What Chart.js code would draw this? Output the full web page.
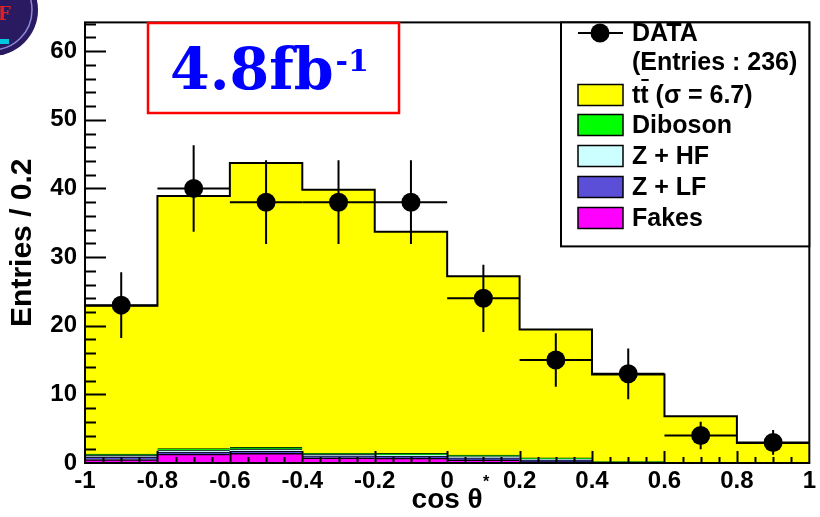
<!DOCTYPE html>
<html>
<head>
<meta charset="utf-8">
<script src="https://cdn.jsdelivr.net/npm/chart.js@4.4.1/dist/chart.umd.min.js"></script>
<style>
  html, body { margin: 0; padding: 0; background: #fff; }
</style>
</head>
<body>
<canvas id="myChart" width="820" height="517"></canvas>
<script>
// bins of cos theta
const binLabels = ['-1..-0.8', '-0.8..-0.6', '-0.6..-0.4', '-0.4..-0.2', '-0.2..0', '0..0.2', '0.2..0.4', '0.4..0.6', '0.6..0.8', '0.8..1'];
const binEdges = [-1, -0.8, -0.6, -0.4, -0.2, 0, 0.2, 0.4, 0.6, 0.8, 1];
const binCenters = [-0.9, -0.7, -0.5, -0.3, -0.1, 0.1, 0.3, 0.5, 0.7, 0.9];

// stacked expectation, bottom to top
const fakes   = [0.5, 1.3, 1.4, 0.75, 0.7, 0.45, 0.2, 0.05, 0.02, 0.01];
const zlf     = [0.4, 0.3, 0.3, 0.3, 0.3, 0.3, 0.25, 0.05, 0.03, 0.02];
const zhf     = [0.2, 0.3, 0.35, 0.2, 0.2, 0.2, 0.15, 0.05, 0.02, 0.01];
const diboson = [0.2, 0.2, 0.25, 0.15, 0.2, 0.2, 0.15, 0.05, 0.03, 0.01];
const ttbar   = [21.6, 36.8, 41.4, 38.4, 32.3, 26.05, 18.7, 12.7, 6.7, 2.85];

// data points
const dataCounts = [23, 40, 38, 38, 38, 24, 15, 13, 4, 3];
const dataErrors = [4.8, 6.3, 6.1, 6.1, 6.1, 4.9, 3.9, 3.7, 2.0, 1.8];

const xTickLabels = ['-1', '-0.8', '-0.6', '-0.4', '-0.2', '0', '0.2', '0.4', '0.6', '0.8', '1'];
const yTickLabels = ['0', '10', '20', '30', '40', '50', '60'];

const legendNames = ['DATA', '(Entries : 236)', 'tt (\u03c3 = 6.7)', 'Diboson', 'Z + HF', 'Z + LF', 'Fakes'];
const legendColors = [null, null, '#ffff00', '#00ff00', '#ccffff', '#5a4fd6', '#ff00ff'];

const totals = ttbar.map((v, i) => v + fakes[i] + zlf[i] + zhf[i] + diboson[i]);
const outline = binEdges.map((e, i) => ({ x: e, y: totals[Math.min(i, totals.length - 1)] }));
const points = dataCounts.map((n, i) => ({ x: binCenters[i], y: n }));

const FONT = '"Liberation Sans", Arial, Helvetica, sans-serif';

function barSet(label, values, color, order, border) {
    return {
        label: label,
        data: values,
        backgroundColor: color,
        borderColor: '#000',
        borderWidth: border ? { top: 1.5, left: 0, right: 0, bottom: 0 } : 0,
        borderSkipped: false,
        xAxisID: 'x',
        yAxisID: 'y',
        stack: 'mc',
        grouped: false,
        order: order,
        barPercentage: 1,
        categoryPercentage: 1
    };
}

const overlay = {
    id: 'overlay',
    afterDatasetsDraw(chart) {
        const { ctx, chartArea: a, scales } = chart;
        const xs = scales.xl, ys = scales.y;
        ctx.save();
        ctx.strokeStyle = '#000';

        // error bars
        ctx.lineWidth = 2;
        dataCounts.forEach((n, i) => {
            const cx = xs.getPixelForValue(binCenters[i]);
            const cy = ys.getPixelForValue(n);
            ctx.beginPath();
            ctx.moveTo(xs.getPixelForValue(binEdges[i]), cy);
            ctx.lineTo(xs.getPixelForValue(binEdges[i + 1]), cy);
            ctx.moveTo(cx, ys.getPixelForValue(n + dataErrors[i]));
            ctx.lineTo(cx, ys.getPixelForValue(n - dataErrors[i]));
            ctx.stroke();
        });

        // ticks inside the frame
        ctx.lineWidth = 2;
        ctx.beginPath();
        for (let i = 1; i < 40; i++) {
            const px = Math.round(xs.getPixelForValue(-1 + i * 0.05)) + 0.5;
            const len = i % 4 === 0 ? 12 : 6;
            ctx.moveTo(px, a.bottom);
            ctx.lineTo(px, a.bottom - len);
        }
        for (let v = 2; v < 64.2; v += 2) {
            const py = Math.round(ys.getPixelForValue(v)) + 0.5;
            const len = v % 10 === 0 ? 21 : 11;
            ctx.moveTo(a.left, py);
            ctx.lineTo(a.left + len, py);
        }
        ctx.stroke();

        // frame
        ctx.lineWidth = 2;
        ctx.strokeRect(a.left, a.top, a.right - a.left, a.bottom - a.top);
        ctx.restore();
    },
    afterDraw(chart) {
        const { ctx, chartArea: a } = chart;
        ctx.save();

        // legend box
        const lx = 561, ly = a.top, lw = a.right - 561, lh = 224;
        ctx.fillStyle = '#fff';
        ctx.fillRect(lx, ly, lw, lh);
        ctx.strokeStyle = '#000';
        ctx.lineWidth = 2;
        ctx.strokeRect(lx, ly, lw, lh);

        const rows = [33, 62, 95, 125, 156, 187, 218];
        ctx.font = 'bold 25px ' + FONT;
        ctx.textBaseline = 'middle';
        ctx.fillStyle = '#000';
        legendNames.forEach((name, i) => {
            const y = rows[i];
            if (i === 0) {
                ctx.beginPath();
                ctx.moveTo(578, y);
                ctx.lineTo(623, y);
                ctx.lineWidth = 2;
                ctx.stroke();
                ctx.beginPath();
                ctx.arc(600, y, 9.5, 0, Math.PI * 2);
                ctx.fill();
            } else if (legendColors[i]) {
                ctx.fillStyle = legendColors[i];
                ctx.fillRect(578, y - 10.5, 45, 21);
                ctx.lineWidth = 1.5;
                ctx.strokeRect(578, y - 10.5, 45, 21);
                ctx.fillStyle = '#000';
            }
            ctx.fillText(name, 632, y + 1);
            if (i === 2) {
                const w1 = ctx.measureText('t').width;
                ctx.fillRect(632 + w1 + 1, y - 16, w1 - 1, 2);
            }
        });

        // luminosity box
        ctx.strokeStyle = '#ff0000';
        ctx.lineWidth = 2.5;
        ctx.strokeRect(148, 23, 251, 90);
        ctx.fillStyle = '#0000ff';
        ctx.textBaseline = 'alphabetic';
        ctx.font = 'bold 57px "DejaVu Serif", serif';
        ctx.fillText('4.8fb', 170, 89);
        const w = ctx.measureText('4.8fb').width;
        ctx.font = 'bold 30px "DejaVu Serif", serif';
        ctx.fillText('-1', 170 + w + 2, 71);

        // star next to the axis title
        ctx.fillStyle = '#000';
        ctx.font = 'bold 16px ' + FONT;
        ctx.fillText('*', 483, 487);

        // corner logo
        ctx.beginPath();
        ctx.arc(-8, 10, 46, 0, Math.PI * 2);
        ctx.fillStyle = '#2a1a62';
        ctx.fill();
        ctx.strokeStyle = '#8a8ad8';
        ctx.lineWidth = 1.5;
        ctx.beginPath();
        ctx.arc(-8, 10, 40, 0, Math.PI * 2);
        ctx.stroke();
        ctx.fillStyle = '#00c8e0';
        ctx.fillRect(0, 39, 9, 5);
        ctx.fillStyle = '#e02020';
        ctx.font = 'bold 18px "DejaVu Serif", serif';
        ctx.fillText('F', -2, 20);
        ctx.restore();
    }
};

new Chart(document.getElementById('myChart'), {
    type: 'bar',
    data: {
        labels: binLabels,
        datasets: [
            {
                type: 'scatter',
                label: 'DATA',
                data: points,
                xAxisID: 'xl',
                yAxisID: 'y',
                stack: 'data',
                order: 0,
                pointRadius: 9.5,
                pointBackgroundColor: '#000',
                pointBorderColor: '#000',
                pointBorderWidth: 0
            },
            {
                type: 'line',
                label: 'outline',
                data: outline,
                xAxisID: 'xl',
                yAxisID: 'y',
                stack: 'outline',
                order: 1,
                stepped: 'before',
                borderColor: '#000',
                borderWidth: 2,
                pointRadius: 0,
                fill: false
            },
            barSet('Fakes', fakes, '#ff00ff', 2, true),
            barSet('Z + LF', zlf, '#5a4fd6', 3, true),
            barSet('Z + HF', zhf, '#ccffff', 4, true),
            barSet('Diboson', diboson, '#00ff00', 5, true),
            barSet('ttbar', ttbar, '#ffff00', 6, false)
        ]
    },
    options: {
        responsive: false,
        animation: false,
        events: [],
        layout: { padding: { top: 6, right: 2, left: 0, bottom: 0 } },
        plugins: {
            legend: { display: false },
            tooltip: { enabled: false }
        },
        scales: {
            x: {
                type: 'category',
                display: false,
                stacked: true,
                offset: true
            },
            xl: {
                type: 'linear',
                position: 'bottom',
                min: -1,
                max: 1,
                offset: false,
                grid: { display: false, drawTicks: false, offset: false },
                border: { display: false },
                ticks: {
                    stepSize: 0.2,
                    includeBounds: false,
                    autoSkip: false,
                    maxRotation: 0,
                    padding: 4,
                    color: '#000',
                    font: { family: FONT, size: 24, weight: 'bold' },
                    callback: (v, i) => xTickLabels[i]
                },
                title: {
                    display: true,
                    text: 'cos \u03b8',
                    color: '#000',
                    padding: { top: 0, bottom: 0 },
                    font: { family: FONT, size: 28, weight: 'bold' }
                },
                afterFit: (s) => { s.height = 54; }
            },
            y: {
                stacked: true,
                min: 0,
                max: 64.2,
                grid: { display: false, drawTicks: false },
                border: { display: false },
                ticks: {
                    stepSize: 10,
                    includeBounds: false,
                    padding: 8,
                    color: '#000',
                    font: { family: FONT, size: 24, weight: 'bold' },
                    callback: (v) => yTickLabels[Math.round(v / 10)]
                },
                title: {
                    display: true,
                    text: 'Entries / 0.2',
                    color: '#000',
                    padding: { top: 5, bottom: 0 },
                    font: { family: FONT, size: 30, weight: 'bold' }
                },
                afterFit: (s) => { s.width = 85; }
            }
        }
    },
    plugins: [overlay]
});
</script>
</body>
</html>
